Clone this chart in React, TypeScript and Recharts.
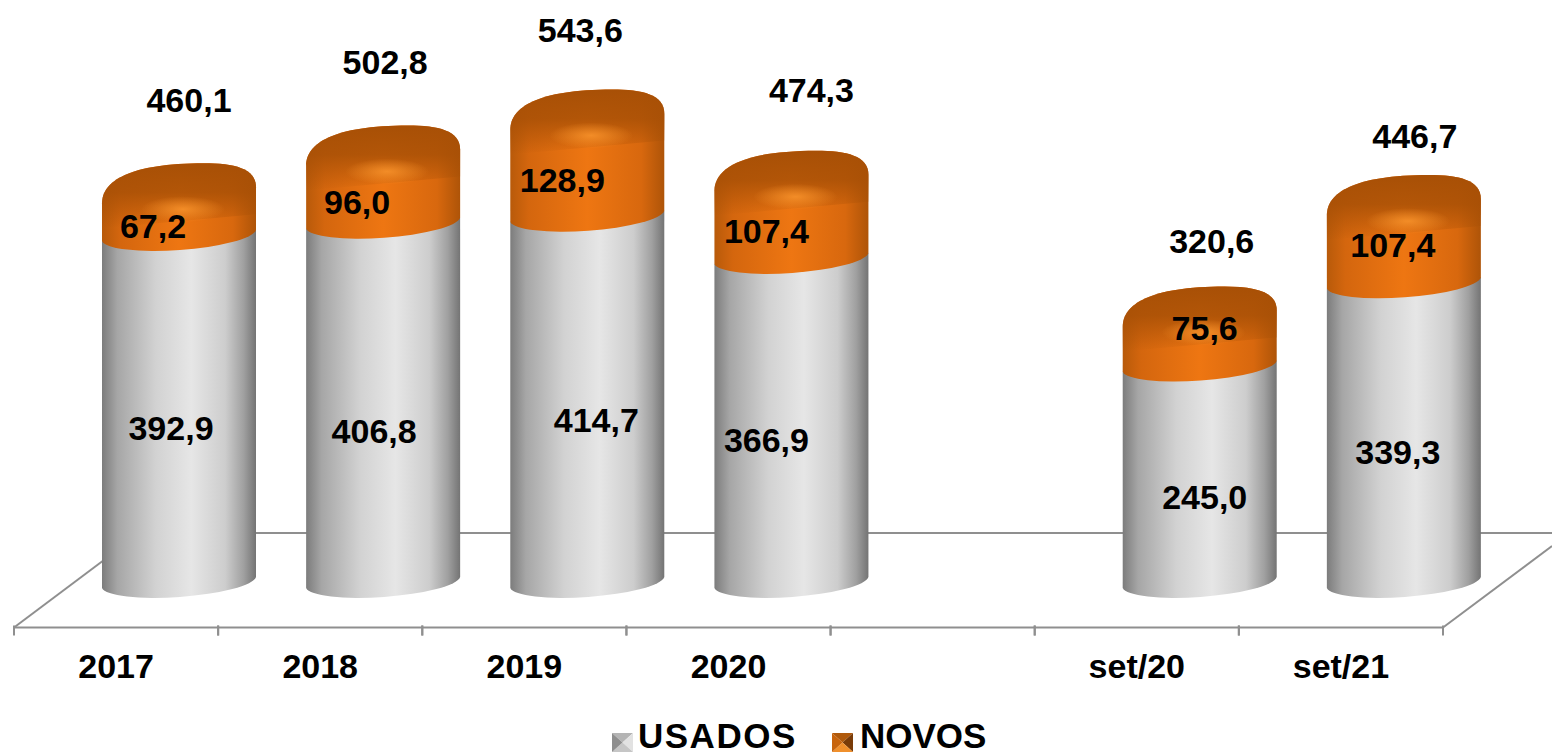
import { BarChart, Bar, XAxis, YAxis, LabelList, Legend } from "recharts";

const categories = ["2017", "2018", "2019", "2020", "", "set/20", "set/21"];
const usados = [392.9, 406.8, 414.7, 366.9, null, 245.0, 339.3];
const novos = [67.2, 96.0, 128.9, 107.4, null, 75.6, 107.4];
const totals = [460.1, 502.8, 543.6, 474.3, null, 320.6, 446.7];

// hand placed label nudges, the original chart has them dragged around
const usadosNudge = [[-8, -26], [-9, -17], [9, -24], [-25, -26], [0, 0], [5, -22], [-6, -26]];
const novosNudge = [[-26, -25], [-26, -24], [-25, -24], [-25, -25], [0, 0], [5, -50], [-11, -35]];
const totalNudge = [[10, -121], [2, -122], [-7, -118], [20, -119], [0, 0], [12, -103], [11, -97]];

const chartData = categories.map((name, i) => ({
  name,
  usados: usados[i],
  novos: novos[i],
  total: totals[i],
}));

const FONT = "'Liberation Sans', Arial, sans-serif";
const GRID = "#8f8f8f";
const BAND = 1429 / 7;
// the cylinders sit back on the fake 3d floor
const DEPTH_X = 63;
const DEPTH_Y = 45;
const TILT = 5.5;

const fmt = (v: number) => v.toFixed(1).replace(".", ",");

function lowerArc(x: number, w: number, cy: number) {
  return `M${x},${cy + TILT} A${w / 2 + 0.4},15.6 -4.1 0 0 ${x + w},${cy - TILT}`;
}

function capCurve(cx: number, hw: number, cy: number) {
  return `C${cx + hw},${cy - 8} ${cx + 55},${cy - 13} ${cx + 25},${cy - 13} C${cx - 50},${cy - 13} ${cx - hw},${cy + 5} ${cx - hw},${cy + 27}`;
}

function UsadosShape(props: any) {
  const { x, y, width, height } = props;
  if (!height) return null;
  const left = x + DEPTH_X;
  const top = y - DEPTH_Y;
  const bottom = y + height - DEPTH_Y;
  return (
    <path
      d={`${lowerArc(left, width, bottom)} L${left + width},${top - TILT} L${left},${top + TILT} Z`}
      fill="url(#grayBody)"
    />
  );
}

function NovosShape(props: any) {
  const { x, y, width, height } = props;
  if (!height) return null;
  const left = x + DEPTH_X;
  const hw = width / 2;
  const cx = left + hw;
  const top = y - DEPTH_Y;
  const bottom = y + height - DEPTH_Y;
  return (
    <g>
      <path
        d={`${lowerArc(left, width, bottom)} L${left + width},${top + 11} ${capCurve(cx, hw, top)} Z`}
        fill="url(#orangeBody)"
      />
      <path
        d={`M${left + width},${top + 11} ${capCurve(cx, hw, top)} L${left},${top + 52} L${left + width},${top + 38} Z`}
        fill="url(#capShade)"
      />
      <ellipse cx={cx + 4} cy={top + 33} rx={42} ry={13} fill="url(#capGlow)" />
    </g>
  );
}

function AxisTick(props: any) {
  const { x, y, payload } = props;
  return (
    <g>
      <line x1={x - BAND / 2} x2={x - BAND / 2} y1={y - 8} y2={y + 2} stroke={GRID} strokeWidth={2} />
      <line x1={x + BAND / 2} x2={x + BAND / 2} y1={y - 8} y2={y + 2} stroke={GRID} strokeWidth={2} />
      <text x={x} y={y + 44} textAnchor="middle" fontFamily={FONT} fontWeight="bold" fontSize={34} fill="#000">
        {payload.value}
      </text>
    </g>
  );
}

function nudgedLabel(nudge: number[][]) {
  return (props: any) => {
    const { x, y, width, height, value, index } = props;
    if (value == null) return null;
    const [dx, dy] = nudge[index];
    return (
      <text
        x={x + width / 2 + DEPTH_X + dx}
        y={y + height / 2 + dy}
        textAnchor="middle"
        dominantBaseline="central"
        fontFamily={FONT}
        fontWeight="bold"
        fontSize={34}
        fill="#000"
      >
        {fmt(value)}
      </text>
    );
  };
}

function totalLabel(props: any) {
  const { x, y, width, value, index } = props;
  if (value == null) return null;
  const [dx, dy] = totalNudge[index];
  return (
    <text
      x={x + width / 2 + DEPTH_X + dx}
      y={y + dy}
      textAnchor="middle"
      dominantBaseline="central"
      fontFamily={FONT}
      fontWeight="bold"
      fontSize={34}
      fill="#000"
    >
      {fmt(value)}
    </text>
  );
}

function PyramidIcon({ colors }: { colors: string[] }) {
  return (
    <svg width={21} height={19} style={{ display: "block" }}>
      <polygon points="0,0 21,0 10.5,9.5" fill={colors[0]} />
      <polygon points="21,0 21,19 10.5,9.5" fill={colors[1]} />
      <polygon points="0,19 21,19 10.5,9.5" fill={colors[2]} />
      <polygon points="0,0 0,19 10.5,9.5" fill={colors[3]} />
    </svg>
  );
}

function LegendContent() {
  const label = { fontFamily: FONT, fontWeight: "bold" as const, fontSize: 35, color: "#000", lineHeight: "36px" };
  return (
    <div style={{ position: "relative", width: 420, height: 40 }}>
      <div style={{ position: "absolute", left: 0, top: 15 }}>
        <PyramidIcon colors={["#b4b4b4", "#e2e2e2", "#c6c6c6", "#8e8e8e"]} />
      </div>
      <div style={{ ...label, position: "absolute", left: 26, top: 0, letterSpacing: 1.5 }}>USADOS</div>
      <div style={{ position: "absolute", left: 220, top: 15 }}>
        <PyramidIcon colors={["#b05a0c", "#7a3c08", "#f0902c", "#c8640c"]} />
      </div>
      <div style={{ ...label, position: "absolute", left: 248, top: 0 }}>NOVOS</div>
    </div>
  );
}

export default function App() {
  return (
    <div style={{ position: "absolute", left: 0, top: 0, width: 1552, height: 754, overflow: "hidden", background: "#fff" }}>
      <BarChart
        width={1552}
        height={754}
        data={chartData}
        barSize={154}
        barCategoryGap={0}
        margin={{ top: 9.4, right: 109, left: 14, bottom: 66.5 }}
      >
        <defs>
          <linearGradient id="grayBody" x1="0" y1="0" x2="1" y2="0">
            <stop offset="0" stopColor="#7c7c7c" />
            <stop offset="0.1" stopColor="#a6a6a6" />
            <stop offset="0.35" stopColor="#d2d2d2" />
            <stop offset="0.58" stopColor="#e6e6e6" />
            <stop offset="0.8" stopColor="#cdcdcd" />
            <stop offset="0.92" stopColor="#a0a0a0" />
            <stop offset="1" stopColor="#747474" />
          </linearGradient>
          <linearGradient id="orangeBody" x1="0" y1="0" x2="1" y2="0">
            <stop offset="0" stopColor="#b85a0a" />
            <stop offset="0.12" stopColor="#d4660e" />
            <stop offset="0.5" stopColor="#ee7612" />
            <stop offset="0.85" stopColor="#d8680e" />
            <stop offset="1" stopColor="#ae5408" />
          </linearGradient>
          <linearGradient id="capShade" x1="0" y1="0" x2="0" y2="1">
            <stop offset="0" stopColor="#a85006" stopOpacity="1" />
            <stop offset="0.45" stopColor="#a85006" stopOpacity="0.85" />
            <stop offset="1" stopColor="#a85006" stopOpacity="0" />
          </linearGradient>
          <radialGradient id="capGlow">
            <stop offset="0" stopColor="#ff9a30" stopOpacity="0.75" />
            <stop offset="1" stopColor="#ff9a30" stopOpacity="0" />
          </radialGradient>
        </defs>
        {/* floor of the fake 3d plot */}
        <g stroke={GRID} strokeWidth={2} fill="none">
          <line x1={14} y1={627.5} x2={140} y2={533} />
          <line x1={1443} y1={627.5} x2={1552} y2={546} />
          <line x1={140} y1={533} x2={1552} y2={533} />
        </g>
        <XAxis
          dataKey="name"
          interval={0}
          height={60}
          axisLine={{ stroke: GRID, strokeWidth: 2 }}
          tickLine={false}
          tick={<AxisTick />}
          tickMargin={0}
        />
        <YAxis hide domain={[0, 700]} />
        <Legend
          layout="horizontal"
          verticalAlign="middle"
          content={<LegendContent />}
          wrapperStyle={{ position: "absolute", left: 612, top: 718, width: 420, height: 40, bottom: "auto", right: "auto" }}
        />
        <Bar dataKey="usados" stackId="a" shape={<UsadosShape />} isAnimationActive={false}>
          <LabelList dataKey="usados" content={nudgedLabel(usadosNudge)} />
        </Bar>
        <Bar dataKey="novos" stackId="a" shape={<NovosShape />} isAnimationActive={false}>
          <LabelList dataKey="novos" content={nudgedLabel(novosNudge)} />
          <LabelList dataKey="total" content={totalLabel} />
        </Bar>
      </BarChart>
    </div>
  );
}
